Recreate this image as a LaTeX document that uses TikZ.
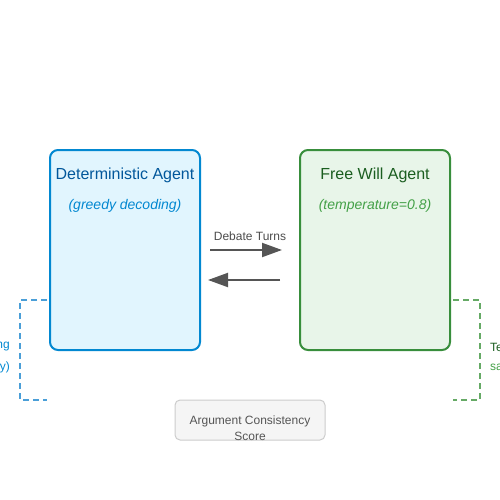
\documentclass[tikz,border=0pt]{standalone}
\usepackage{fontspec}
\setmainfont{Liberation Sans}
\usetikzlibrary{arrows.meta}
\definecolor{detFill}{HTML}{E1F5FE}
\definecolor{detLine}{HTML}{0288D1}
\definecolor{detTitle}{HTML}{01579B}
\definecolor{detDash}{HTML}{4A9FD8}
\definecolor{freeFill}{HTML}{E8F5E9}
\definecolor{freeLine}{HTML}{388E3C}
\definecolor{freeTitle}{HTML}{1B5E20}
\definecolor{freeSub}{HTML}{43A047}
\definecolor{freeDash}{HTML}{66AA66}
\definecolor{arrowGray}{HTML}{555555}
\definecolor{scoreFill}{HTML}{F5F5F5}
\definecolor{scoreLine}{HTML}{CCCCCC}
\tikzset{
  agentbox/.style={draw, line width=2pt, rounded corners=8pt, minimum width=150pt, minimum height=200pt, inner sep=0pt},
  titletext/.style={font=\fontsize{16}{19}\selectfont, inner sep=0pt},
  subtext/.style={font=\fontsize{14}{17}\selectfont\itshape, inner sep=0pt},
  smalltext/.style={font=\fontsize{12}{16}\selectfont, inner sep=0pt},
  turnarrow/.style={draw=arrowGray, line width=2pt, -{Triangle[length=20pt,width=14pt]}},
  dashlink/.style={line width=2pt, dash pattern=on 6pt off 4pt}
}
\begin{document}
\begin{tikzpicture}[x=1pt,y=-1pt]
        \useasboundingbox (0,0) rectangle (500,500);

        % les deux agents
        \node[agentbox, fill=detFill, draw=detLine] (detAgent) at (125,250) {};
        \node[agentbox, fill=freeFill, draw=freeLine] (freeAgent) at (375,250) {};

        \node[titletext, text=detTitle] (detTitle) at (125,175) {Deterministic Agent};
        \node[subtext, text=detLine] (detSub) at (125,205.5) {(greedy decoding)};
        \node[titletext, text=freeTitle] (freeTitle) at (375,175) {Free Will Agent};
        \node[subtext, text=freeSub] (freeSub) at (375,205.5) {(temperature=0.8)};

        % tours de debat
        \draw (210,250) coordinate (turnLeftA);
        \draw (282,250) coordinate (turnRightA);
        \draw (280,280) coordinate (turnRightB);
        \draw (208,280) coordinate (turnLeftB);
        \node[smalltext, text=arrowGray!90!black] (turnsLabel) at (250,236.5) {Debate Turns};
        \draw[turnarrow] (turnLeftA) -- (turnRightA);
        \draw[turnarrow] (turnRightB) -- (turnLeftB);

        % score de consistance
        \node[draw=scoreLine, fill=scoreFill, line width=1pt, rounded corners=5pt, minimum width=150pt, minimum height=40pt, inner sep=0pt] (score) at (250,420) {};
        \node[smalltext, text=arrowGray, align=center] (scoreLabel) at (250,428.5) {Argument Consistency\\Score};

        % liens en pointilles vers les cotes
        \draw (47,300) coordinate (detDashTop);
        \draw (20,300) coordinate (detDashA);
        \draw (20,400) coordinate (detDashB);
        \draw (47,400) coordinate (detDashEnd);
        \draw[dashlink, draw=detDash] (detDashTop) -- (detDashA) -- (detDashB) -- (detDashEnd);
        \node[smalltext, text=detLine, anchor=east] (detNoteA) at (10,347) {ng};
        \node[smalltext, text=detLine, anchor=east] (detNoteB) at (10,367) {y)};

        \draw (453,300) coordinate (freeDashTop);
        \draw (480,300) coordinate (freeDashA);
        \draw (480,400) coordinate (freeDashB);
        \draw (453,400) coordinate (freeDashEnd);
        \draw[dashlink, draw=freeDash] (freeDashTop) -- (freeDashA) -- (freeDashB) -- (freeDashEnd);
        \node[smalltext, text=freeTitle, anchor=west] (freeNoteA) at (490,347) {Te};
        \node[smalltext, text=freeSub, anchor=west] (freeNoteB) at (490,367) {sa};
\end{tikzpicture}
\end{document}
